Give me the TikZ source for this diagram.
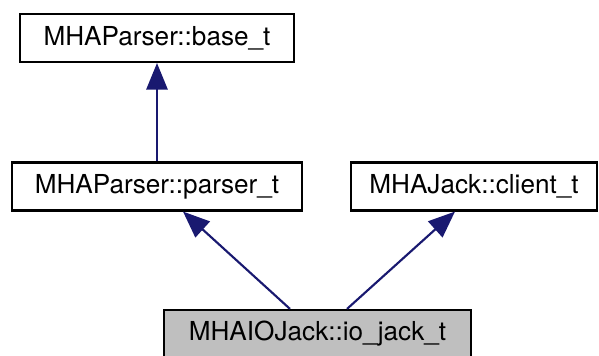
\documentclass[tikz,border=0pt]{standalone}
\usepackage{fontspec}
\setmainfont{TeX Gyre Heros}
\usetikzlibrary{calc,arrows.meta}

\definecolor{edgeblue}{RGB}{25,25,112}
\definecolor{gray75}{RGB}{191,191,191}

\begin{document}
\begin{tikzpicture}[x=0.75pt, y=-0.75pt, every node/.style={font=\fontsize{19.6}{23}\selectfont}]
            \tikzstyle{classnode}=[rectangle, draw, line width=1.6pt, fill=white, minimum height=36pt, inner sep=0pt]
            \tikzstyle{currentnode}=[classnode, fill=gray75]
            \tikzstyle{inherit}=[draw=edgeblue, line width=1.6pt, -{Triangle[length=20pt, width=16pt]}]

            \useasboundingbox (0,0) rectangle (599,356);

            \node[classnode, minimum width=206pt] (base) at (157,38) {MHAParser::base\_t};
            \node[classnode, minimum width=217pt] (parser) at (157,186.5) {MHAParser::parser\_t};
            \node[classnode, minimum width=184pt] (client) at (474,186.5) {MHAJack::client\_t};
            \node[currentnode, minimum width=230pt] (iojack) at (317.5,334) {MHAIOJack::io\_jack\_t};

            \draw[inherit] (parser.north) -- (base.south);
            \draw[inherit] ($(iojack.north)+(-27.5,0)$) -- ($(parser.south)+(26,0)$);
            \draw[inherit] ($(iojack.north)+(29.5,0)$) -- ($(client.south)+(-19,0)$);
        \end{tikzpicture}
\end{document}
